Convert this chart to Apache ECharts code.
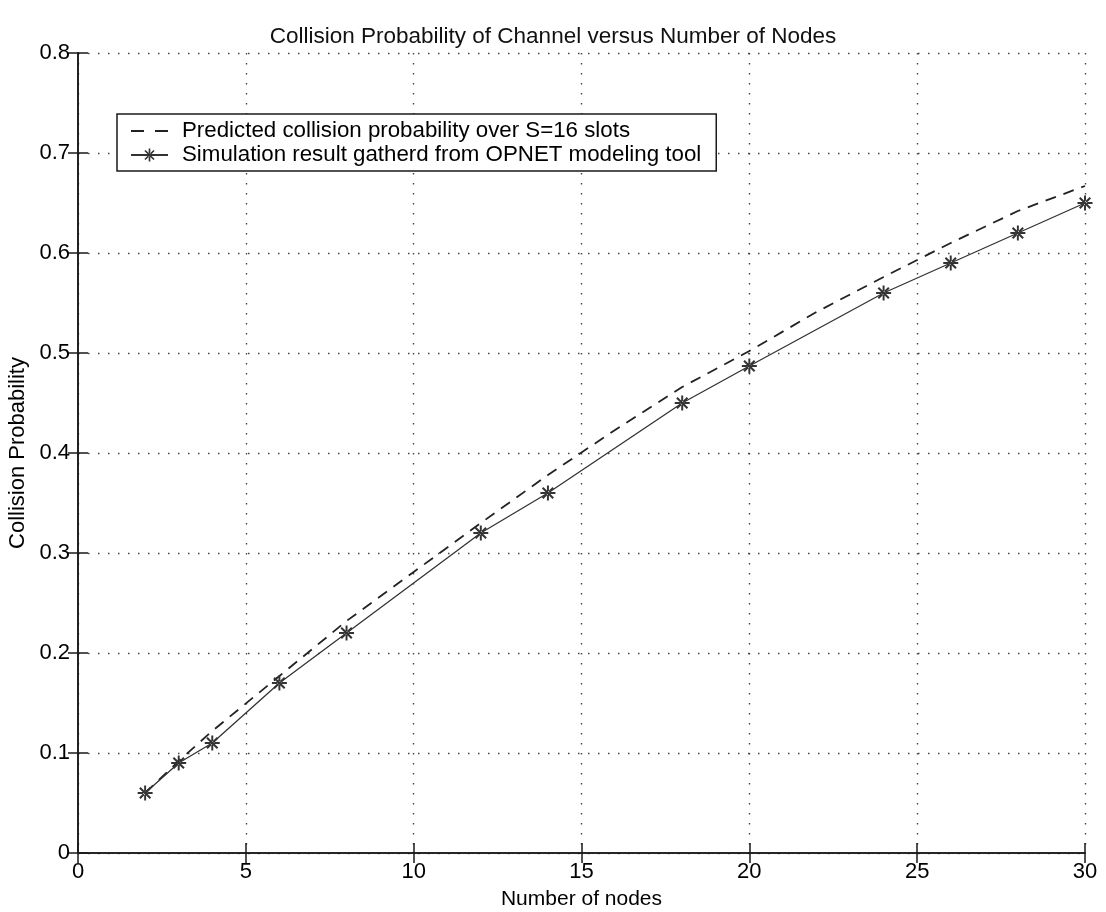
<!DOCTYPE html>
<html>
<head>
<meta charset="utf-8">
<script src="https://cdn.jsdelivr.net/npm/echarts@6/dist/echarts.min.js"></script>
<style>
html,body{margin:0;padding:0;background:#fff;}
#chart{width:1106px;height:912px;}
</style>
</head>
<body>
<div id="chart"></div>
<script>
// ---- data ----
var titleText = 'Collision Probability of Channel versus Number of Nodes';
var xName = 'Number of nodes';
var yName = 'Collision Probability';
var predName = 'Predicted collision probability over S=16 slots';
var simName = 'Simulation result gatherd from OPNET modeling tool';

var predX = [2, 3, 4, 6, 8, 10, 12, 14, 16, 18, 20, 22, 24, 26, 28, 30];
var predY = [0.06, 0.092, 0.122, 0.177, 0.232, 0.281, 0.33, 0.378, 0.423, 0.466, 0.502, 0.541, 0.576, 0.61, 0.642, 0.667];

var simX = [2, 3, 4, 6, 8, 12, 14, 18, 20, 24, 26, 28, 30];
var simY = [0.06, 0.09, 0.11, 0.17, 0.22, 0.32, 0.36, 0.45, 0.487, 0.56, 0.59, 0.62, 0.65];

var xMin = 0, xMax = 30, xStep = 5;
var yMin = 0, yMax = 0.8, yStep = 0.1;

// ---- chart ----
var FONT = '"Liberation Sans", Arial, Helvetica, sans-serif';
var INK = '#1a1a1a';
var asterisk = 'path://M-1.3,-10L1.3,-10L1.3,10L-1.3,10Z' +
  'M-10,-1.3L10,-1.3L10,1.3L-10,1.3Z' +
  'M-6.1,-8L8,6.1L6.1,8L-8,-6.1Z' +
  'M-6.1,8L8,-6.1L6.1,-8L-8,6.1Z';
var dashIcon = 'path://M0,0L13,0L13,2L0,2Z M24,0L37,0L37,2L24,2Z';

function pairs(xs, ys) {
  var out = [];
  for (var i = 0; i < xs.length; i++) out.push([xs[i], ys[i]]);
  return out;
}

var chart = echarts.init(document.getElementById('chart'), null, {renderer: 'canvas'});

var tickStyle = {show: true, inside: true, length: 10, lineStyle: {color: INK, width: 1.5}};
var axisLineStyle = {show: true, lineStyle: {color: INK, width: 1.6}};
var gridLine = {show: true, lineStyle: {color: '#444', width: 1.4, type: [1.5, 8.5]}};
var labelStyle = {color: '#000', fontSize: 22, fontFamily: FONT};

chart.setOption({
  animation: false,
  backgroundColor: '#fff',
  title: {
    text: titleText,
    left: 'center',
    top: 20,
    textStyle: {color: '#111', fontSize: 22.5, fontWeight: 'normal', fontFamily: FONT}
  },
  grid: {left: 78, right: 21, top: 53, bottom: 59, containLabel: false, outerBoundsMode: 'none'},
  legend: {
    orient: 'vertical',
    left: 117,
    top: 114,
    padding: [5, 15, 4, 13],
    itemGap: 0,
    itemWidth: 37,
    itemHeight: 16,
    borderColor: INK,
    borderWidth: 1.5,
    backgroundColor: '#fff',
    data: [
      {name: predName, icon: dashIcon, itemStyle: {color: '#222'}},
      {name: simName}
    ],
    textStyle: {color: '#000', fontSize: 22.3, fontFamily: FONT, lineHeight: 24, padding: [0, 0, 0, 9]}
  },
  xAxis: [{
    type: 'value', min: xMin, max: xMax, interval: xStep,
    name: xName, nameLocation: 'middle', nameGap: 36,
    nameTextStyle: {color: '#000', fontSize: 21, fontFamily: FONT},
    axisLine: axisLineStyle, axisTick: tickStyle,
    axisLabel: Object.assign({margin: 8}, labelStyle),
    splitLine: gridLine
  }, {
    type: 'value', min: xMin, max: xMax, interval: xStep, position: 'top',
    axisLine: axisLineStyle, axisTick: tickStyle,
    axisLabel: {show: false}, splitLine: {show: false}
  }],
  yAxis: [{
    type: 'value', min: yMin, max: yMax, interval: yStep,
    name: yName, nameLocation: 'middle', nameGap: 48,
    nameTextStyle: {color: '#000', fontSize: 22, fontFamily: FONT},
    axisLine: axisLineStyle, axisTick: tickStyle,
    axisLabel: Object.assign({margin: 8}, labelStyle),
    splitLine: gridLine
  }, {
    type: 'value', min: yMin, max: yMax, interval: yStep, position: 'right',
    axisLine: axisLineStyle, axisTick: tickStyle,
    axisLabel: {show: false}, splitLine: {show: false}
  }],
  series: [{
    name: predName,
    type: 'line',
    data: pairs(predX, predY),
    smooth: false,
    symbol: 'none',
    lineStyle: {color: '#222', width: 1.8, type: [11, 8]},
    itemStyle: {color: '#222'},
    z: 2
  }, {
    name: simName,
    type: 'line',
    data: pairs(simX, simY),
    symbol: asterisk,
    symbolSize: 15,
    showSymbol: true,
    lineStyle: {color: '#333', width: 1.3, type: 'solid'},
    itemStyle: {color: '#333'},
    z: 3
  }]
});
</script>
</body>
</html>
